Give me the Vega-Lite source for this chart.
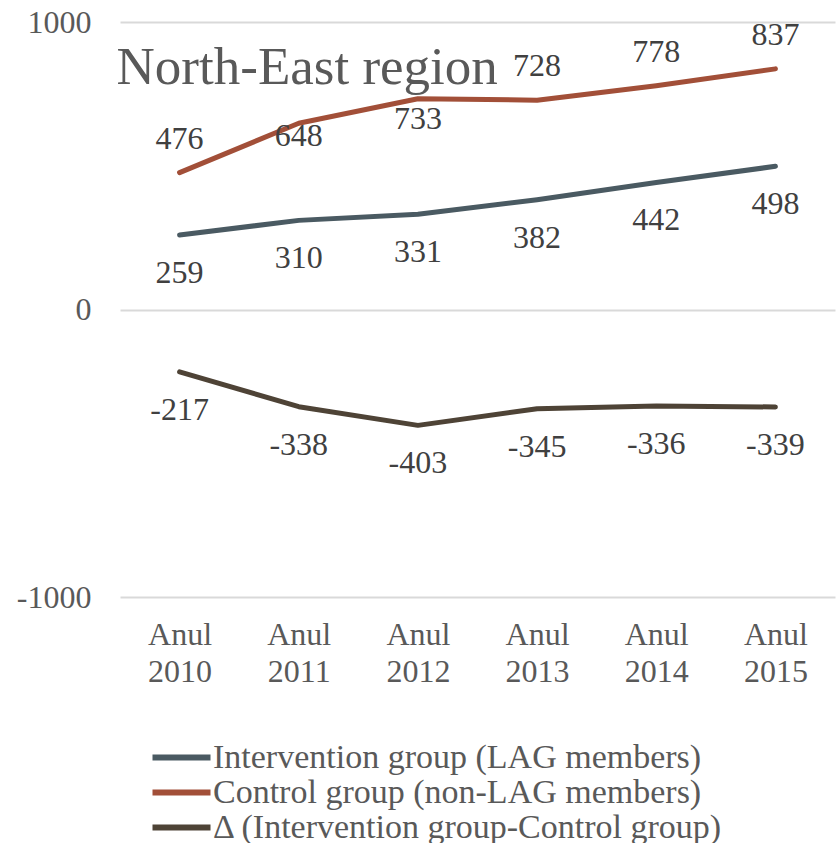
{
  "$schema": "https://vega.github.io/schema/vega-lite/v6.json",
  "autosize": "none",
  "width": 715,
  "height": 575,
  "padding": {"left": 120, "top": 22, "right": 2, "bottom": 246},
  "background": "white",
  "config": {
    "font": "Liberation Serif",
    "view": {"stroke": null}
  },
  "data": {
    "values": [
      {"year": "Anul 2010", "series": "Intervention group (LAG members)", "value": 259},
      {"year": "Anul 2011", "series": "Intervention group (LAG members)", "value": 310},
      {"year": "Anul 2012", "series": "Intervention group (LAG members)", "value": 331},
      {"year": "Anul 2013", "series": "Intervention group (LAG members)", "value": 382},
      {"year": "Anul 2014", "series": "Intervention group (LAG members)", "value": 442},
      {"year": "Anul 2015", "series": "Intervention group (LAG members)", "value": 498},
      {"year": "Anul 2010", "series": "Control group (non-LAG members)", "value": 476},
      {"year": "Anul 2011", "series": "Control group (non-LAG members)", "value": 648},
      {"year": "Anul 2012", "series": "Control group (non-LAG members)", "value": 733},
      {"year": "Anul 2013", "series": "Control group (non-LAG members)", "value": 728},
      {"year": "Anul 2014", "series": "Control group (non-LAG members)", "value": 778},
      {"year": "Anul 2015", "series": "Control group (non-LAG members)", "value": 837},
      {"year": "Anul 2010", "series": "Δ (Intervention group-Control group)", "value": -217},
      {"year": "Anul 2011", "series": "Δ (Intervention group-Control group)", "value": -338},
      {"year": "Anul 2012", "series": "Δ (Intervention group-Control group)", "value": -403},
      {"year": "Anul 2013", "series": "Δ (Intervention group-Control group)", "value": -345},
      {"year": "Anul 2014", "series": "Δ (Intervention group-Control group)", "value": -336},
      {"year": "Anul 2015", "series": "Δ (Intervention group-Control group)", "value": -339}
    ]
  },
  "encoding": {
    "x": {
      "field": "year",
      "type": "ordinal",
      "scale": {"type": "point", "padding": 0.5},
      "axis": {
        "title": null,
        "labelAngle": 0,
        "labelExpr": "split(datum.label, ' ')",
        "labelFontSize": 32,
        "labelColor": "#595959",
        "labelFont": "Liberation Serif",
        "labelLineHeight": 37,
        "labelPadding": 22,
        "ticks": false,
        "domain": false,
        "grid": false
      }
    },
    "y": {
      "field": "value",
      "type": "quantitative",
      "scale": {"domain": [-1000, 1000], "nice": false, "zero": false},
      "axis": {
        "title": null,
        "values": [-1000, 0, 1000],
        "labelExpr": "datum.value + ''",
        "labelFontSize": 32,
        "labelColor": "#595959",
        "labelFont": "Liberation Serif",
        "labelPadding": 29,
        "ticks": false,
        "domain": false,
        "grid": true,
        "gridColor": "#d9d9d9",
        "gridWidth": 2
      }
    }
  },
  "layer": [
    {
      "mark": {"type": "line", "strokeWidth": 5, "strokeCap": "round", "strokeJoin": "round"},
      "encoding": {
        "color": {
          "field": "series",
          "type": "nominal",
          "scale": {
            "domain": ["Intervention group (LAG members)", "Control group (non-LAG members)", "Δ (Intervention group-Control group)"],
            "range": ["#4a5a62", "#a24f38", "#4e4336"]
          },
          "legend": {
            "title": null,
            "orient": "none",
            "legendX": 44,
            "legendY": 718,
            "direction": "vertical",
            "symbolType": "M-2,0H2",
            "symbolSize": 841,
            "symbolStrokeWidth": 6,
            "symbolStrokeCap": "round",
            "labelFontSize": 34,
            "labelColor": "#595959",
            "labelFont": "Liberation Serif",
            "labelOffset": 14,
            "labelLimit": 760,
            "rowPadding": 0
          }
        }
      }
    },
    {
      "data": {"values": [{"heading": "North-East region", "year": "Anul 2010", "value": 784}]},
      "mark": {"type": "text", "align": "left", "baseline": "alphabetic", "dx": -63, "fontSize": 53, "color": "#595959", "font": "Liberation Serif"},
      "encoding": {
        "text": {"field": "heading", "type": "nominal"}
      }
    },
    {
      "transform": [{"filter": "datum.series !== 'Control group (non-LAG members)'"}],
      "mark": {"type": "text", "baseline": "middle", "align": "center", "dy": 38, "fontSize": 32, "color": "#404040", "font": "Liberation Serif"},
      "encoding": {"text": {"field": "value", "type": "nominal"}}
    },
    {
      "transform": [
        {"filter": "datum.series === 'Control group (non-LAG members)'"},
        {"filter": "datum.year !== 'Anul 2011' && datum.year !== 'Anul 2012'"}
      ],
      "mark": {"type": "text", "baseline": "middle", "align": "center", "dy": -34, "fontSize": 32, "color": "#404040", "font": "Liberation Serif"},
      "encoding": {"text": {"field": "value", "type": "nominal"}}
    },
    {
      "transform": [
        {"filter": "datum.series === 'Control group (non-LAG members)'"},
        {"filter": "datum.year === 'Anul 2011'"}
      ],
      "mark": {"type": "text", "baseline": "middle", "align": "center", "dy": 13, "fontSize": 32, "color": "#404040", "font": "Liberation Serif"},
      "encoding": {"text": {"field": "value", "type": "nominal"}}
    },
    {
      "transform": [
        {"filter": "datum.series === 'Control group (non-LAG members)'"},
        {"filter": "datum.year === 'Anul 2012'"}
      ],
      "mark": {"type": "text", "baseline": "middle", "align": "center", "dy": 20, "fontSize": 32, "color": "#404040", "font": "Liberation Serif"},
      "encoding": {"text": {"field": "value", "type": "nominal"}}
    }
  ]
}
